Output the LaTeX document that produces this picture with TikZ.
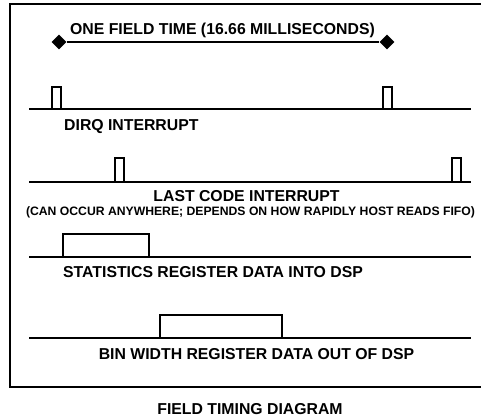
\documentclass[tikz,border=0pt]{standalone}
\usepackage{fontspec}
\setmainfont{Liberation Sans}
\usetikzlibrary{shapes.geometric}
\begin{document}
\begin{tikzpicture}[x=1pt,y=-1pt,
  lbl/.style={font=\fontsize{15.8}{18}\selectfont\bfseries, inner sep=0pt},
  smalllbl/.style={font=\fontsize{12.2}{14}\selectfont\bfseries, inner sep=0pt},
  sig/.style={line width=1.3pt, line join=miter},
  frame/.style={line width=1.6pt},
  tip/.style={diamond, fill=black, inner sep=0pt, minimum width=15pt, minimum height=15pt}]
\useasboundingbox (0,0) rectangle (481,417);
% frame (right side runs off the picture)
\draw[frame] (481,4) -- (10,4) -- (10,387) -- (481,387);
% field time marker
\node[tip] (dl) at (59,42) {};
\node[tip] (dr) at (387,42) {};
\draw[line width=1.3pt] (dl) -- (dr);
\node[lbl, anchor=base west] (title) at (70,35) {ONE FIELD TIME (16.66 MILLISECONDS)};
% DIRQ
\draw[sig] (29,109) -- (52,109) -- (52,87) -- (61,87) -- (61,109) -- (383,109) -- (383,87) -- (392,87) -- (392,109) -- (471,109);
\draw[sig] (52,109) -- (61,109) (383,109) -- (392,109);
\node[lbl, anchor=base west] (dirq) at (64,130) {DIRQ INTERRUPT};
% Last code
\draw[sig] (29,182) -- (115,182) -- (115,158) -- (124,158) -- (124,182) -- (452,182) -- (452,158) -- (461,158) -- (461,182) -- (471,182);
\draw[sig] (115,182) -- (124,182) (452,182) -- (461,182);
\node[lbl, anchor=base] (lastcode) at (246.5,201) {LAST CODE INTERRUPT};
\node[smalllbl, anchor=base] (note) at (250.5,215) {(CAN OCCUR ANYWHERE; DEPENDS ON HOW RAPIDLY HOST READS FIFO)};
% Statistics
\draw[sig] (29,257) -- (63,257) -- (63,234) -- (149,234) -- (149,257) -- (471,257);
\draw[sig] (63,257) -- (149,257);
\node[lbl, anchor=base west] (stats) at (63,277) {STATISTICS REGISTER DATA INTO DSP};
% Bin width
\draw[sig] (29,338) -- (160,338) -- (160,315) -- (282,315) -- (282,338) -- (471,338);
\draw[sig] (160,338) -- (282,338);
\node[lbl, anchor=base] (bin) at (256.5,359) {BIN WIDTH REGISTER DATA OUT OF DSP};
% caption
\node[lbl, anchor=base] (caption) at (250,414) {FIELD TIMING DIAGRAM};
\end{tikzpicture}
\end{document}
